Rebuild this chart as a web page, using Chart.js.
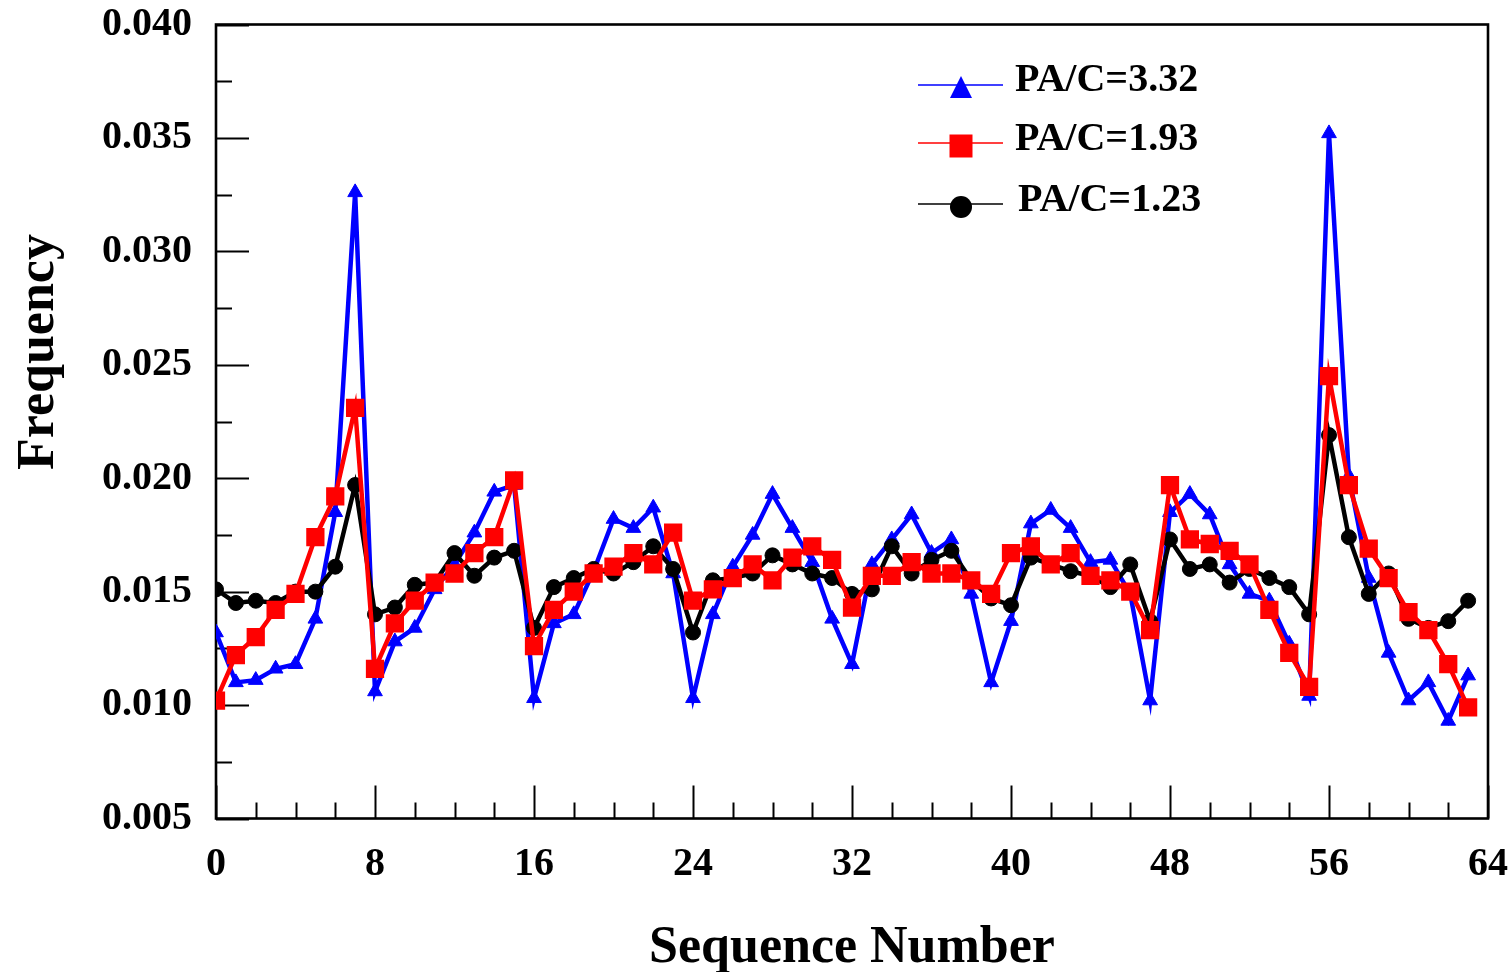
<!DOCTYPE html>
<html>
<head>
<meta charset="utf-8">
<script src="https://cdn.jsdelivr.net/npm/chart.js@4/dist/chart.umd.min.js"></script>
<style>
  html, body { margin: 0; padding: 0; background: #fff; }
  canvas { display: block; }
</style>
</head>
<body>
<canvas id="chartFreq" width="1510" height="972"></canvas>
<script>
// === Datos ===
const seqNumber = [0, 1, 2, 3, 4, 5, 6, 7, 8, 9, 10, 11, 12, 13, 14, 15,
  16, 17, 18, 19, 20, 21, 22, 23, 24, 25, 26, 27, 28, 29, 30, 31,
  32, 33, 34, 35, 36, 37, 38, 39, 40, 41, 42, 43, 44, 45, 46, 47,
  48, 49, 50, 51, 52, 53, 54, 55, 56, 57, 58, 59, 60, 61, 62, 63];

const freq332 = [0.0132, 0.0110, 0.0111, 0.0116, 0.0118, 0.0138, 0.0185, 0.0326, 0.0106, 0.0128, 0.0134, 0.0151, 0.0162, 0.0176, 0.0194, 0.0197,
  0.0103, 0.0136, 0.0140, 0.0159, 0.0182, 0.0178, 0.0187, 0.0158, 0.0103, 0.0140, 0.0161, 0.0175, 0.0193, 0.0178, 0.0163, 0.0138,
  0.0118, 0.0162, 0.0173, 0.0184, 0.0167, 0.0173, 0.0149, 0.0110, 0.0137, 0.0180, 0.0186, 0.0178, 0.0163, 0.0164, 0.0149, 0.0102,
  0.0185, 0.0193, 0.0184, 0.0162, 0.0149, 0.0146, 0.0127, 0.0104, 0.0352, 0.0201, 0.0156, 0.0123, 0.0102, 0.0110, 0.0093, 0.0113];

const freq193 = [0.0102, 0.0122, 0.0130, 0.0142, 0.0149, 0.0174, 0.0192, 0.0231, 0.0116, 0.0136, 0.0146, 0.0154, 0.0158, 0.0167, 0.0174, 0.0199,
  0.0126, 0.0142, 0.0150, 0.0158, 0.0161, 0.0167, 0.0162, 0.0176, 0.0146, 0.0151, 0.0156, 0.0162, 0.0155, 0.0165, 0.0170, 0.0164,
  0.0143, 0.0157, 0.0157, 0.0163, 0.0158, 0.0158, 0.0155, 0.0149, 0.0167, 0.0170, 0.0162, 0.0167, 0.0157, 0.0155, 0.0150, 0.0133,
  0.0197, 0.0173, 0.0171, 0.0168, 0.0162, 0.0142, 0.0123, 0.0108, 0.0245, 0.0197, 0.0169, 0.0156, 0.0141, 0.0133, 0.0118, 0.0099];

const freq123 = [0.0151, 0.0145, 0.0146, 0.0145, 0.0150, 0.0150, 0.0161, 0.0197, 0.0140, 0.0143, 0.0153, 0.0154, 0.0167, 0.0157, 0.0165, 0.0168,
  0.0134, 0.0152, 0.0156, 0.0160, 0.0158, 0.0163, 0.0170, 0.0160, 0.0132, 0.0155, 0.0156, 0.0158, 0.0166, 0.0162, 0.0158, 0.0156,
  0.0149, 0.0151, 0.0170, 0.0158, 0.0164, 0.0168, 0.0155, 0.0147, 0.0144, 0.0165, 0.0162, 0.0159, 0.0157, 0.0152, 0.0162, 0.0137,
  0.0173, 0.0160, 0.0162, 0.0154, 0.0160, 0.0156, 0.0152, 0.0140, 0.0219, 0.0174, 0.0149, 0.0158, 0.0138, 0.0134, 0.0137, 0.0146];

const seriesLabels = ["PA/C=3.32", "PA/C=1.93", "PA/C=1.23"];

const fuente = "'Liberation Serif', 'Times New Roman', serif";
const puntos = vals => seqNumber.map((s, i) => ({ x: s, y: vals[i] }));

// === Marco y ticks hacia adentro ===
const marco = {
  id: "marco",
  beforeDatasetsDraw(chart) {
    const { ctx, chartArea: a, scales: { x, y } } = chart;
    ctx.save();
    ctx.strokeStyle = "#000";
    ctx.lineWidth = 2;
    for (let v = x.min; v <= x.max; v += 2) {
      const px = Math.round(x.getPixelForValue(v)) + 0.5;
      const len = v % 8 === 0 ? 33 : 16;
      ctx.beginPath();
      ctx.moveTo(px, a.bottom);
      ctx.lineTo(px, a.bottom - len);
      ctx.stroke();
    }
    for (let k = 0; k <= 14; k++) {
      const v = y.min + k * 0.0025;
      const py = Math.round(y.getPixelForValue(v)) + 0.5;
      const len = k % 2 === 0 ? 33 : 16;
      ctx.beginPath();
      ctx.moveTo(a.left, py);
      ctx.lineTo(a.left + len, py);
      ctx.stroke();
    }
    ctx.lineWidth = 2.6;
    ctx.strokeRect(a.left, a.top, a.right - a.left, a.bottom - a.top);

    // titulo eje Y (desplazado hacia arriba como en el original)
    ctx.fillStyle = "#000";
    ctx.font = "bold 52px " + fuente;
    ctx.textAlign = "center";
    ctx.textBaseline = "middle";
    ctx.translate(40, 352);
    ctx.rotate(-Math.PI / 2);
    ctx.fillText("Frequency", 0, 0);
    ctx.restore();
  }
};

// === Leyenda dentro del grafico ===
const leyenda = {
  id: "leyenda",
  afterDraw(chart) {
    const ctx = chart.ctx;
    const lineY = [85, 143, 204];
    const markY = [87, 146, 207];
    const textY = [81, 140, 201];
    const textX = [1015, 1015, 1018];
    ctx.save();
    chart.data.datasets.forEach((ds, i) => {
      ctx.strokeStyle = ds.borderColor;
      ctx.fillStyle = ds.borderColor;
      ctx.lineWidth = 1.5;
      ctx.beginPath();
      ctx.moveTo(918, lineY[i]);
      ctx.lineTo(1003, lineY[i]);
      ctx.stroke();
      const cx = 961, cy = markY[i];
      ctx.beginPath();
      if (ds.pointStyle === "triangle") {
        ctx.moveTo(cx, cy - 11);
        ctx.lineTo(cx + 11, cy + 11);
        ctx.lineTo(cx - 11, cy + 11);
        ctx.closePath();
      } else if (ds.pointStyle === "rect") {
        ctx.rect(cx - 11.5, cy - 11.5, 23, 23);
      } else {
        ctx.arc(cx, cy, 11, 0, Math.PI * 2);
      }
      ctx.fill();
      ctx.fillStyle = "#000";
      ctx.font = "bold 40px " + fuente;
      ctx.textAlign = "left";
      ctx.textBaseline = "middle";
      ctx.fillText(ds.label, textX[i], textY[i]);
    });
    ctx.restore();
  }
};

new Chart(document.getElementById("chartFreq"), {
  type: "line",
  data: {
    datasets: [
      {
        label: seriesLabels[0],
        data: puntos(freq332),
        borderColor: "#0000ff",
        backgroundColor: "#0000ff",
        borderWidth: 4.5,
        pointStyle: "triangle",
        pointRadius: 8.5,
        pointBorderWidth: 1,
        order: 3
      },
      {
        label: seriesLabels[1],
        data: puntos(freq193),
        borderColor: "#ff0000",
        backgroundColor: "#ff0000",
        borderWidth: 4.5,
        pointStyle: "rect",
        pointRadius: 11.5,
        pointBorderWidth: 2,
        order: 1
      },
      {
        label: seriesLabels[2],
        data: puntos(freq123),
        borderColor: "#000000",
        backgroundColor: "#000000",
        borderWidth: 4.5,
        pointStyle: "circle",
        pointRadius: 7.5,
        pointBorderWidth: 1,
        order: 2
      }
    ]
  },
  options: {
    responsive: false,
    animation: false,
    devicePixelRatio: 1,
    layout: {
      padding: { top: 24.5, right: 22, left: 0, bottom: 0 }
    },
    plugins: {
      legend: { display: false },
      tooltip: { enabled: false }
    },
    scales: {
      x: {
        type: "linear",
        min: 0,
        max: 64,
        afterFit: s => { s.height = 153.5; s.paddingLeft = 0; s.paddingRight = 0; },
        grid: { display: false },
        border: { display: false },
        ticks: {
          stepSize: 8,
          padding: 14,
          color: "#000",
          maxRotation: 0,
          font: { family: fuente, size: 40, weight: "bold" }
        },
        title: {
          display: true,
          text: "Sequence Number",
          color: "#000",
          padding: { top: 0, bottom: -3 },
          font: { family: fuente, size: 52, weight: "bold", lineHeight: 1 }
        }
      },
      y: {
        min: 0.005,
        max: 0.040,
        afterFit: s => { s.width = 216; s.paddingTop = 0; s.paddingBottom = 0; },
        grid: { display: false },
        border: { display: false },
        ticks: {
          stepSize: 0.005,
          padding: 16,
          color: "#000",
          font: { family: fuente, size: 40, weight: "bold" },
          callback: v => v.toFixed(3)
        }
      }
    }
  },
  plugins: [marco, leyenda]
});
</script>
</body>
</html>
